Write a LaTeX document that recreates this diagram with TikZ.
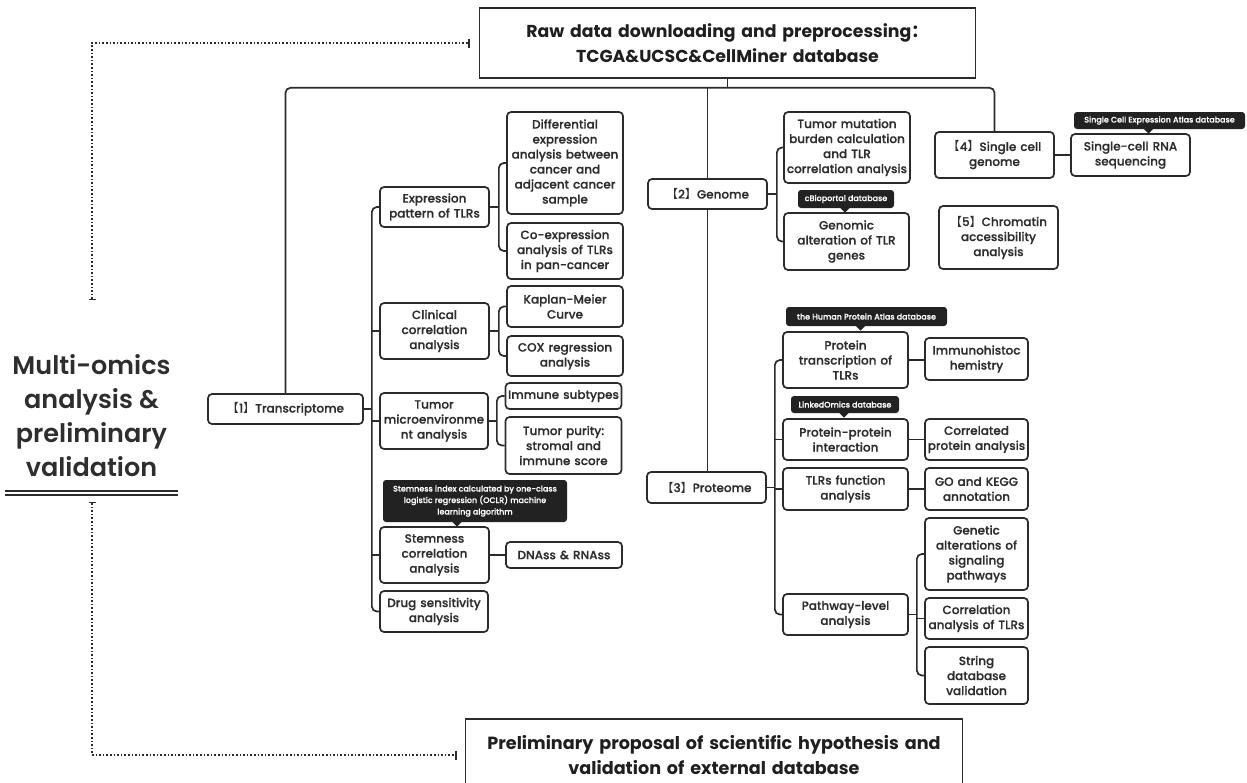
\documentclass[tikz,border=0pt]{standalone}
\usepackage{fontspec}
\usepackage{xcolor}
\setmainfont{Poppins}
\IfFontExistsTF{Poppins Medium}{\newfontfamily\medfont{Poppins Medium}[FakeBold=0.6]}{\newfontfamily\medfont{Poppins}[FakeBold=1]}
\IfFontExistsTF{Poppins SemiBold}{\newfontfamily\semifont{Poppins SemiBold}}{\newcommand\semifont{\bfseries}}
\newfontfamily\cjk{Noto Sans CJK SC}
\newcommand\lbrk{{\cjk 【}}
\newcommand\rbrk{{\cjk 】}}
\usetikzlibrary{arrows.meta,calc}
\definecolor{inkgray}{HTML}{2B2B2B}
\definecolor{txtgray}{HTML}{2E2E2E}
\definecolor{tipblack}{HTML}{222222}

\begin{document}
\begin{tikzpicture}[x=1pt, y=-1pt,
    box/.style={draw=inkgray, line width=1.7pt, rounded corners=4pt, align=center,
      inner xsep=0pt, inner ysep=2pt, text=txtgray,
      font=\medfont\fontsize{12}{15}\selectfont},
    head/.style={draw=inkgray, line width=1.6pt, align=center, text=black!88,
      font=\bfseries\fontsize{17.3}{25}\selectfont},
    tip/.style={fill=tipblack, rounded corners=3pt, text=white, align=center,
      inner xsep=4pt, inner ysep=2pt, font=\medfont\fontsize{8}{11.5}\selectfont},
    conn/.style={draw=inkgray, line width=1.7pt, rounded corners=5pt},
    dots/.style={draw=inkgray, line width=1.6pt, dotted,
      {Bar[width=7pt,line width=1.4pt]}-{Bar[width=9pt,line width=1.4pt]}},
    rule/.style={draw=inkgray, line width=1.4pt}]
  \useasboundingbox[fill=white] (0,0) rectangle (1247,782);
  \clip (0,0) rectangle (1247,782);

  % top and bottom boxes, left title
  \node[head, text width=489pt, minimum height=70pt] (raw) at (727.5,43)
    {Raw data downloading and preprocessing{\cjk ：}\\TCGA\&UCSC\&CellMiner database};
  \node[head, text width=490pt, minimum height=72pt, font=\bfseries\fontsize{17.6}{25}\selectfont] (prelim) at (714,755)
    {Preliminary proposal of scientific hypothesis and\\validation of external database};
  \node[align=center, inner sep=0pt, text=txtgray,
    font=\semifont\fontsize{25.5}{34}\selectfont] (multi) at (91.5,416)
    {Multi-omics\\analysis \&\\preliminary\\validation};
  \foreach \yy in {491,495}
    \draw[rule] (5,\yy) -- (178,\yy);
  \coordinate (mtop) at (92,300);
  \coordinate (mbot) at (92,502);

  % [1] transcriptome
  \node[box, text width=155pt, minimum height=30pt] (trans) at (285.5,409) {\lbrk 1\rbrk Transcriptome};
  \node[box, text width=109pt, minimum height=40pt] (expr) at (434.5,207) {Expression\\pattern of TLRs};
  \node[box, text width=109pt, minimum height=56pt] (clin) at (434.5,331) {Clinical\\correlation\\analysis};
  \node[box, text width=108pt, minimum height=56pt] (tme) at (434,421) {Tumor\\microenvironme\\nt analysis};
  \node[box, text width=109pt, minimum height=56pt] (stem) at (434.5,555) {Stemness\\correlation\\analysis};
  \node[box, text width=108pt, minimum height=41pt] (drug) at (434,611.5) {Drug sensitivity\\analysis};
  \node[box, text width=116pt, minimum height=102pt] (diff) at (565,163)
    {Differential\\expression\\analysis between\\cancer and\\adjacent cancer\\sample};
  \node[box, text width=116pt, minimum height=56pt] (coexp) at (565,251) {Co-expression\\analysis of TLRs\\in pan-cancer};
  \node[box, text width=116pt, minimum height=41pt] (km) at (565,306.5) {Kaplan-Meier\\Curve};
  \node[box, text width=116pt, minimum height=40pt] (cox) at (565,356) {COX regression\\analysis};
  \node[box, text width=116pt, minimum height=26pt] (immune) at (563.5,396) {Immune subtypes};
  \node[box, text width=116pt, minimum height=57pt] (purity) at (563.5,445.5) {Tumor purity:\\stromal and\\immune score};
  \node[box, text width=116pt, minimum height=26pt] (dnass) at (564,555) {DNAss \& RNAss};
  \node[tip, minimum width=184pt, minimum height=42pt] (tipstem) at (475,501)
    {Stemness index calculated by one-class\\logistic regression (OCLR) machine\\learning algorithm};

  % [2] genome, [4] single cell, [5] chromatin
  \node[box, text width=119pt, minimum height=30pt] (genome) at (707.5,194) {\lbrk 2\rbrk Genome};
  \node[box, text width=126pt, minimum height=71pt] (tmb) at (847,147.5)
    {Tumor mutation\\burden calculation\\and TLR\\correlation analysis};
  \node[box, text width=125pt, minimum height=57pt] (galt) at (846.5,241.5) {Genomic\\alteration of TLR\\genes};
  \node[tip, minimum width=96pt, minimum height=18pt] (tipcbio) at (846,199) {cBioportal database};
  \node[box, text width=119pt, minimum height=46pt] (scg) at (994.5,155) {\lbrk 4\rbrk Single cell\\genome};
  \node[box, text width=119pt, minimum height=42pt] (scrna) at (1130.5,155) {Single-cell RNA\\sequencing};
  \node[tip, minimum width=171pt, minimum height=17pt] (tipscea) at (1159.5,120.5) {Single Cell Expression Atlas database};
  \node[box, text width=119pt, minimum height=63pt] (chrom) at (998.5,237.5) {\lbrk 5\rbrk Chromatin\\accessibility\\analysis};

  % [3] proteome
  \node[box, text width=119pt, minimum height=31pt] (prot) at (706.5,487.5) {\lbrk 3\rbrk Proteome};
  \node[box, text width=125pt, minimum height=56pt] (ptrans) at (845.5,360) {Protein\\transcription of\\TLRs};
  \node[box, text width=125pt, minimum height=41pt] (ppi) at (845.5,439.5) {Protein-protein\\interaction};
  \node[box, text width=125pt, minimum height=42pt] (tlrf) at (845.5,489) {TLRs function\\analysis};
  \node[box, text width=125pt, minimum height=41pt] (path) at (845.5,614.5) {Pathway-level\\analysis};
  \node[box, text width=103pt, minimum height=42pt] (ihc) at (976.5,359) {Immunohistoc\\hemistry};
  \node[box, text width=103pt, minimum height=41pt] (cpa) at (976.5,439.5) {Correlated\\protein analysis};
  \node[box, text width=103pt, minimum height=42pt] (gokegg) at (976.5,489) {GO and KEGG\\annotation};
  \node[box, text width=103pt, minimum height=72pt] (genalt) at (976.5,554) {Genetic\\alterations of\\signaling\\pathways};
  \node[box, text width=103pt, minimum height=41pt] (corrtlr) at (976.5,618.5) {Correlation\\analysis of TLRs};
  \node[box, text width=103pt, minimum height=57pt] (string) at (976.5,675.5) {String\\database\\validation};
  \node[tip, minimum width=161pt, minimum height=19pt] (tiphpa) at (866.5,316.5) {the Human Protein Atlas database};
  \node[tip, minimum width=108pt, minimum height=17pt] (tiplinked) at (845,404.5) {LinkedOmics database};

  % tooltip pointers
  \foreach \t/\dx in {tipstem/-18, tipcbio/-1, tipscea/-11, tiphpa/-6, tiplinked/-1}
    \fill[tipblack] ($(\t.south)+(\dx-5,-0.5)$) -- ++(10,0) -- ++(-5,5) -- cycle;

  % trunk
  \coordinate (jtop) at ($(raw.south)+(0,9)$);
  \draw[conn] (raw.south) -- (jtop);
  \draw[conn] (trans.north) |- (jtop) -| (scg.north);
  \draw[conn] (jtop -| genome.north) -- (genome.north);
  \draw[conn] (genome.south) -- (genome.south |- prot.north);

  % transcriptome branches
  \coordinate (jT) at ($(trans.east)+(8,0)$);
  \draw[conn] (trans.east) -- (jT);
  \draw[conn] (expr.west) -| (jT) |- (drug.west);
  \foreach \n in {clin,tme,stem}
    \draw[conn] (\n.west) -- (\n.west -| jT);
  \coordinate (jE) at ($(expr.east)+(9,0)$);
  \draw[conn] (expr.east) -- (jE);
  \draw[conn] (diff.west) -| (jE) |- (coexp.west);
  \coordinate (jC) at ($(clin.east)+(9,0)$);
  \draw[conn] (clin.east) -- (jC);
  \draw[conn] (km.west) -| (jC) |- (cox.west);
  \coordinate (jM) at ($(tme.east)+(8,0)$);
  \draw[conn] (tme.east) -- (jM);
  \draw[conn] (immune.west) -| (jM) |- (purity.west);
  \draw[conn] (stem.east) -- (dnass.west);

  % genome and single cell branches
  \coordinate (jG) at ($(genome.east)+(9,0)$);
  \draw[conn] (genome.east) -- (jG);
  \draw[conn] (tmb.west) -| (jG) |- (galt.west);
  \draw[conn] (scg.east) -- (scrna.west);

  % proteome branches
  \coordinate (jP) at ($(prot.east)+(8,0)$);
  \draw[conn] (prot.east) -- (jP);
  \draw[conn] (ptrans.west) -| (jP) |- (path.west);
  \foreach \n in {ppi,tlrf}
    \draw[conn] (\n.west) -- (\n.west -| jP);
  \draw[conn] (ptrans.east) -- (ptrans.east -| ihc.west);
  \draw[conn] (ppi.east) -- (cpa.west);
  \draw[conn] (tlrf.east) -- (gokegg.west);
  \coordinate (jW) at ($(path.east)+(8,0)$);
  \draw[conn] (path.east) -- (jW);
  \draw[conn] (genalt.west) -| (jW) |- (string.west);
  \draw[conn] (corrtlr.west) -- (corrtlr.west -| jW);

  % dotted links
  \draw[dots, shorten >=9pt] (mtop) |- (raw.west);
  \draw[dots, shorten >=8pt] (mbot) |- (prelim.west);
\end{tikzpicture}
\end{document}
